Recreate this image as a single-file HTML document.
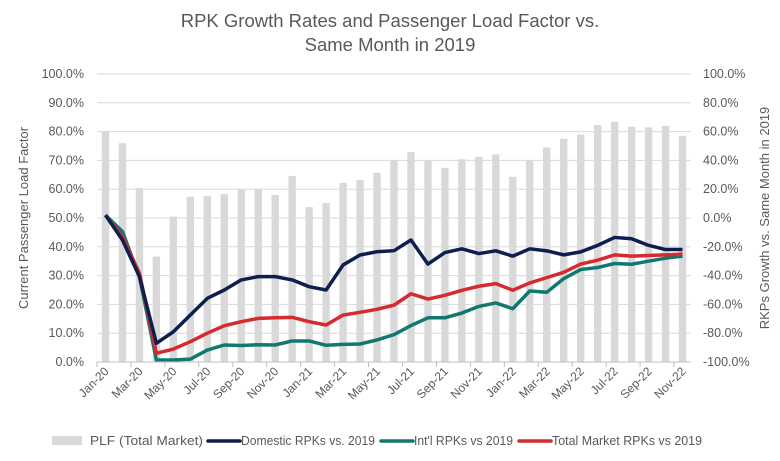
<!DOCTYPE html>
<html><head><meta charset="utf-8"><style>
body{margin:0;background:#fff;}
svg{display:block;font-family:"Liberation Sans",sans-serif;fill:#595959;}
</style></head><body>
<svg id="chart" width="780" height="461" viewBox="0 0 780 461" xmlns="http://www.w3.org/2000/svg">
<text x="390" y="27" text-anchor="middle" font-size="18.5">RPK Growth Rates and Passenger Load Factor vs.</text>
<text x="390" y="51" text-anchor="middle" font-size="18.5">Same Month in 2019</text>
<text transform="translate(28,218) rotate(-90)" text-anchor="middle" font-size="13">Current Passenger Load Factor</text>
<text transform="translate(769,218) rotate(-90)" text-anchor="middle" font-size="13">RKPs Growth vs. Same Month in 2019</text>
<g id="grid"></g><g id="bars"></g><g id="lines"></g><g id="axes"></g>
<g font-size="12.5">
<rect x="52" y="436" width="30" height="9" fill="#d9d9d9"/>
<text x="90" y="445" textLength="113" lengthAdjust="spacingAndGlyphs">PLF (Total Market)</text>
<line x1="208" y1="441" x2="240" y2="441" stroke="#0d1e4f" stroke-width="3.5" stroke-linecap="round"/>
<text x="241" y="445" textLength="134" lengthAdjust="spacingAndGlyphs">Domestic RPKs vs. 2019</text>
<line x1="381" y1="441" x2="413" y2="441" stroke="#10786e" stroke-width="3.5" stroke-linecap="round"/>
<text x="414" y="445" textLength="99" lengthAdjust="spacingAndGlyphs">Int'l RPKs vs 2019</text>
<line x1="519" y1="441" x2="551" y2="441" stroke="#d42a30" stroke-width="3.5" stroke-linecap="round"/>
<text x="552" y="445" textLength="150" lengthAdjust="spacingAndGlyphs">Total Market RPKs vs 2019</text>
</g>
</svg>
<script>
const months=["Jan-20","Feb-20","Mar-20","Apr-20","May-20","Jun-20","Jul-20","Aug-20","Sep-20","Oct-20","Nov-20","Dec-20","Jan-21","Feb-21","Mar-21","Apr-21","May-21","Jun-21","Jul-21","Aug-21","Sep-21","Oct-21","Nov-21","Dec-21","Jan-22","Feb-22","Mar-22","Apr-22","May-22","Jun-22","Jul-22","Aug-22","Sep-22","Oct-22","Nov-22"];
const plf=[80.2,76,60.4,36.6,50.5,57.4,57.6,58.3,60,60,58,64.6,53.8,55.2,62.2,63.2,65.7,70.1,72.9,69.9,67.4,70.4,71.2,72.1,64.3,70,74.5,77.5,79,82.3,83.4,81.7,81.5,82,78.5];
const domestic=[2,-15.3,-40.7,-87,-79,-67.4,-55.8,-50,-43,-40.7,-40.7,-43,-47.7,-50,-32.6,-25.7,-23.4,-22.7,-15.3,-32,-24,-21.4,-24.7,-22.8,-26.5,-21.4,-22.8,-25.6,-23.5,-19,-13.5,-14.4,-19,-21.9,-21.9];
const intl=[2,-9.5,-40.7,-98.6,-98.6,-98,-91.7,-88.2,-88.5,-88,-88.2,-85.4,-85.4,-88.4,-87.8,-87.5,-84.7,-81,-74.7,-69.3,-69.3,-66,-61.4,-59,-63,-50.7,-51.6,-42.1,-35.8,-34.4,-31.6,-32.1,-30,-27.9,-26.5];
const total=[2,-13,-38.4,-94,-91,-85.9,-80,-74.8,-72,-69.7,-69.3,-69,-72,-74.3,-67.4,-65.5,-63.4,-60.5,-52.6,-56.3,-53.7,-50.2,-47.4,-45.6,-50.2,-45.1,-41.4,-37.7,-32,-29.3,-25.6,-26.5,-26,-25.6,-25.1];
const leftTicks=[0,10,20,30,40,50,60,70,80,90,100];
const rightTicks=[-100,-80,-60,-40,-20,0,20,40,60,80,100];

const NS="http://www.w3.org/2000/svg";
const X0=97,X1=691,Y0=362,Y1=74;
const bw=(X1-X0)/months.length;
const xc=i=>X0+bw*(i+0.5);
const yL=v=>Y0-(v/100)*(Y0-Y1);
const yR=v=>Y0-((v+100)/200)*(Y0-Y1);
function mk(tag,attrs,parent){const e=document.createElementNS(NS,tag);for(const k in attrs)e.setAttribute(k,attrs[k]);parent.appendChild(e);return e;}
const grid=document.getElementById('grid'),bars=document.getElementById('bars'),lines=document.getElementById('lines'),axes=document.getElementById('axes');
leftTicks.forEach((t,i)=>{
  const y=yL(t);
  const g=mk('line',{x1:X0,x2:X1,y1:y,y2:y,stroke:'#d9d9d9','stroke-width':1},grid);
  
  
  const l=mk('text',{x:84,y:y+4,'text-anchor':'end','font-size':12.5},axes);
  l.textContent=t.toFixed(1)+'%';
  
  
});
rightTicks.forEach(t=>{
  const l=mk('text',{x:703,y:yR(t)+4,'font-size':12.5},axes);
  l.textContent=t.toFixed(1)+'%';
  
  
});
plf.forEach((v,i)=>{
  const r=mk('rect',{x:xc(i)-3.7,width:7.4,y:yL(v),height:Y0-yL(v),fill:'#d9d9d9'},bars);
  
  
});
function drawLine(arr,color,name){
  const p=mk('polyline',{points:arr.map((v,i)=>xc(i)+','+yR(v)).join(' '),fill:'none',stroke:color,'stroke-width':3.5,'stroke-linejoin':'round'},lines);
  
  
}
drawLine(intl,'#10786e','intl-rpk-line');
drawLine(total,'#d42a30','total-rpk-line');
drawLine(domestic,'#0d1e4f','domestic-rpk-line');
const ax=mk('line',{x1:X0,x2:X1,y1:Y0,y2:Y0,stroke:'#bfbfbf','stroke-width':1},axes);


months.forEach((m,i)=>{
  if(i%2===0){
    const tx=X0+bw*i;
    const tk=mk('line',{x1:tx,x2:tx,y1:Y0,y2:Y0+5,stroke:'#bfbfbf'},axes);
    
    
    const x=xc(i)+4,y=Y0+10;
    const t=mk('text',{x:x,y:y,'text-anchor':'end','font-size':12,transform:'rotate(-45 '+x+' '+y+')'},axes);
    t.textContent=m;
    
    
  }
});
</script>
</body></html>
